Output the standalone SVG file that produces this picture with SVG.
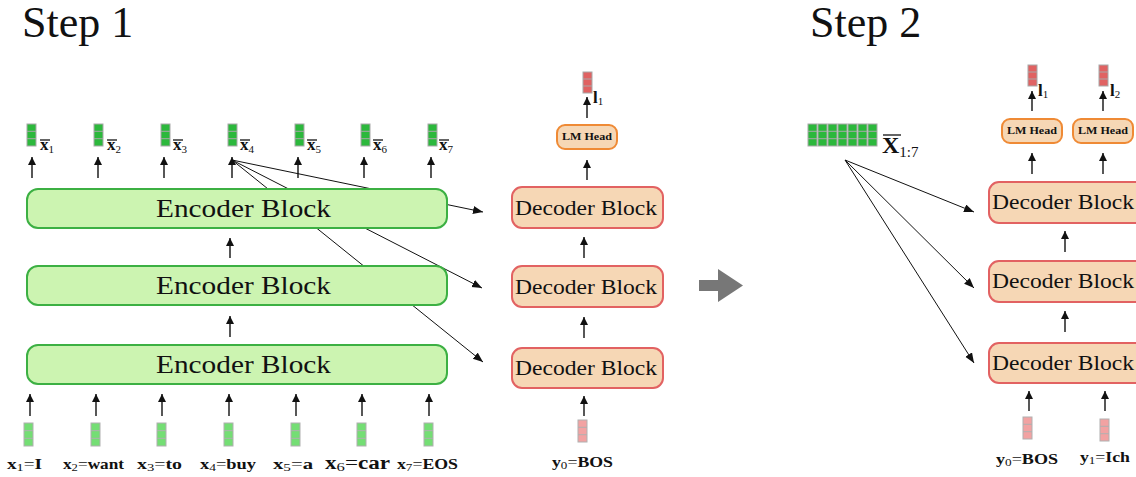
<svg xmlns="http://www.w3.org/2000/svg" width="1136" height="477" viewBox="0 0 1136 477">
<style>
  text { font-family: "Liberation Serif", "Times New Roman", serif; fill: #111; }
  .title { font-size: 44px; }
  .enc { fill: #ccf4b1; stroke: #3cb043; stroke-width: 2; }
  .dec { fill: #f6d7b5; stroke: #e26262; stroke-width: 2; }
  .lm { fill: #f6d7b5; stroke: #ef8a35; stroke-width: 2; }
  .enct { font-size: 25.5px; }
  .dect { font-size: 20.5px; }
  .lmt { font-size: 9.5px; font-weight: bold; }
  .arr { stroke: #111; stroke-width: 1.4; fill: none; marker-end: url(#ah); }
  .xl { stroke: #111; stroke-width: 1; fill: none; marker-end: url(#ah2); }
  .lbl { font-size: 15px; }
  .b { font-weight: bold; }
  .sub { font-size: 11px; }
  .bar { stroke: #111; stroke-width: 1.3; }
</style>
<defs>
  <marker id="ah" markerUnits="userSpaceOnUse" markerWidth="9" markerHeight="9" refX="8" refY="4" orient="auto">
    <path d="M0,0 L8,4 L0,8 z" fill="#111"/>
  </marker>
  <marker id="ah2" markerUnits="userSpaceOnUse" markerWidth="11" markerHeight="9" refX="10" refY="4" orient="auto">
    <path d="M0,0 L10,4 L0,8 z" fill="#111"/>
  </marker>
  <g id="vdg">
    <rect x="0" y="0" width="9" height="22" fill="#2cb83c" stroke="#a8a8a8" stroke-width="1"/>
    <line x1="0" y1="7.3" x2="9" y2="7.3" stroke="#a8a8a8"/>
    <line x1="0" y1="14.7" x2="9" y2="14.7" stroke="#a8a8a8"/>
  </g>
  <g id="vlg">
    <rect x="0" y="0" width="9" height="23" fill="#74de74" stroke="#b0b0b0" stroke-width="1"/>
    <line x1="0" y1="7.7" x2="9" y2="7.7" stroke="#b0b0b0"/>
    <line x1="0" y1="15.3" x2="9" y2="15.3" stroke="#b0b0b0"/>
  </g>
  <g id="vr">
    <rect x="0" y="0" width="9" height="21" fill="#e06262" stroke="#a8a8a8" stroke-width="1"/>
    <line x1="0" y1="7" x2="9" y2="7" stroke="#a8a8a8"/>
    <line x1="0" y1="14" x2="9" y2="14" stroke="#a8a8a8"/>
  </g>
  <g id="vp">
    <rect x="0" y="0" width="9" height="22" fill="#f2a2a2" stroke="#b0b0b0" stroke-width="1"/>
    <line x1="0" y1="7.3" x2="9" y2="7.3" stroke="#b0b0b0"/>
    <line x1="0" y1="14.7" x2="9" y2="14.7" stroke="#b0b0b0"/>
  </g>
</defs>

<text class="title" x="22" y="37">Step 1</text>
<text class="title" x="810" y="37">Step 2</text>

<g id="connectors">
  <line class="xl" x1="232" y1="160" x2="483" y2="212"/>
  <line class="xl" x1="232" y1="160" x2="482" y2="288"/>
  <line class="xl" x1="232" y1="160" x2="483" y2="362"/>
  <line class="arr" x1="32" y1="178" x2="32" y2="157"/>
  <line class="arr" x1="98" y1="178" x2="98" y2="157"/>
  <line class="arr" x1="164" y1="178" x2="164" y2="157"/>
  <line class="arr" x1="232" y1="178" x2="232" y2="157"/>
  <line class="arr" x1="298" y1="178" x2="298" y2="157"/>
  <line class="arr" x1="364" y1="178" x2="364" y2="157"/>
  <line class="arr" x1="431" y1="178" x2="431" y2="157"/>
  <line class="arr" x1="230" y1="258" x2="230" y2="238"/>
  <line class="arr" x1="230" y1="337" x2="230" y2="316"/>
  <line class="arr" x1="30" y1="416" x2="30" y2="394"/>
  <line class="arr" x1="96" y1="416" x2="96" y2="394"/>
  <line class="arr" x1="162" y1="416" x2="162" y2="394"/>
  <line class="arr" x1="229" y1="416" x2="229" y2="394"/>
  <line class="arr" x1="296" y1="416" x2="296" y2="394"/>
  <line class="arr" x1="362" y1="416" x2="362" y2="394"/>
  <line class="arr" x1="429" y1="416" x2="429" y2="394"/>
  <line class="arr" x1="584" y1="416" x2="584" y2="396"/>
  <line class="arr" x1="584" y1="338" x2="584" y2="317"/>
  <line class="arr" x1="584" y1="258" x2="584" y2="237"/>
  <line class="arr" x1="587" y1="180" x2="587" y2="160"/>
  <line class="arr" x1="587" y1="118" x2="587" y2="97"/>
  <line class="xl" x1="845" y1="160" x2="974" y2="212"/>
  <line class="xl" x1="845" y1="160" x2="974" y2="288"/>
  <line class="xl" x1="845" y1="160" x2="974" y2="363"/>
  <line class="arr" x1="1029" y1="411" x2="1029" y2="391"/>
  <line class="arr" x1="1105" y1="411" x2="1105" y2="391"/>
  <line class="arr" x1="1065" y1="332" x2="1065" y2="311"/>
  <line class="arr" x1="1065" y1="252" x2="1065" y2="231"/>
  <line class="arr" x1="1032" y1="174" x2="1032" y2="153"/>
  <line class="arr" x1="1103" y1="174" x2="1103" y2="153"/>
  <line class="arr" x1="1032" y1="111" x2="1032" y2="91"/>
  <line class="arr" x1="1103" y1="111" x2="1103" y2="91"/>
</g>

<g id="encoder1"><rect class="enc" x="27" y="189" width="420" height="39" rx="11"/><text class="enct" x="156" y="217" textLength="175" lengthAdjust="spacingAndGlyphs">Encoder Block</text></g>
<g id="encoder2"><rect class="enc" x="27" y="266" width="420" height="39" rx="11"/><text class="enct" x="156" y="294" textLength="175" lengthAdjust="spacingAndGlyphs">Encoder Block</text></g>
<g id="encoder3"><rect class="enc" x="27" y="345" width="420" height="39" rx="11"/><text class="enct" x="156" y="373" textLength="175" lengthAdjust="spacingAndGlyphs">Encoder Block</text></g>

<g id="decoder1a"><rect class="dec" x="512" y="187" width="151" height="41" rx="10"/><text class="dect" x="515" y="215" textLength="142" lengthAdjust="spacingAndGlyphs">Decoder Block</text></g>
<g id="decoder2a"><rect class="dec" x="512" y="266" width="151" height="41" rx="10"/><text class="dect" x="515" y="294" textLength="142" lengthAdjust="spacingAndGlyphs">Decoder Block</text></g>
<g id="decoder3a"><rect class="dec" x="512" y="348" width="151" height="40" rx="10"/><text class="dect" x="515" y="375" textLength="142" lengthAdjust="spacingAndGlyphs">Decoder Block</text></g>
<g id="lmhead1"><rect class="lm" x="557" y="125" width="60" height="24" rx="8"/><text class="lmt" x="562" y="140" textLength="50" lengthAdjust="spacingAndGlyphs">LM Head</text></g>

<g id="encoder-outputs">
  <use href="#vdg" x="27" y="124"/><use href="#vdg" x="94" y="124"/><use href="#vdg" x="161" y="124"/><use href="#vdg" x="228" y="124"/><use href="#vdg" x="295" y="124"/><use href="#vdg" x="361" y="124"/><use href="#vdg" x="428" y="124"/>
  <line class="bar" x1="40" y1="140" x2="50" y2="140"/><text x="40" y="150"><tspan class="b" font-size="17">x</tspan><tspan class="sub" dy="3">1</tspan></text>
  <line class="bar" x1="107" y1="140" x2="117" y2="140"/><text x="107" y="150"><tspan class="b" font-size="17">x</tspan><tspan class="sub" dy="3">2</tspan></text>
  <line class="bar" x1="173" y1="140" x2="183" y2="140"/><text x="173" y="150"><tspan class="b" font-size="17">x</tspan><tspan class="sub" dy="3">3</tspan></text>
  <line class="bar" x1="240" y1="140" x2="250" y2="140"/><text x="240" y="150"><tspan class="b" font-size="17">x</tspan><tspan class="sub" dy="3">4</tspan></text>
  <line class="bar" x1="307" y1="140" x2="317" y2="140"/><text x="307" y="150"><tspan class="b" font-size="17">x</tspan><tspan class="sub" dy="3">5</tspan></text>
  <line class="bar" x1="373" y1="140" x2="383" y2="140"/><text x="373" y="150"><tspan class="b" font-size="17">x</tspan><tspan class="sub" dy="3">6</tspan></text>
  <line class="bar" x1="439" y1="140" x2="449" y2="140"/><text x="439" y="150"><tspan class="b" font-size="17">x</tspan><tspan class="sub" dy="3">7</tspan></text>
</g>

<g id="encoder-inputs">
  <use href="#vlg" x="24" y="423"/><use href="#vlg" x="91" y="423"/><use href="#vlg" x="157" y="423"/><use href="#vlg" x="224" y="423"/><use href="#vlg" x="291" y="423"/><use href="#vlg" x="357" y="423"/><use href="#vlg" x="424" y="423"/>
  <text class="lbl" x="7" y="469" textLength="35" lengthAdjust="spacingAndGlyphs"><tspan class="b">x</tspan><tspan class="sub" dy="2">1</tspan><tspan dy="-2">=</tspan><tspan class="b">I</tspan></text>
  <text class="lbl" x="63" y="469" textLength="61" lengthAdjust="spacingAndGlyphs"><tspan class="b">x</tspan><tspan class="sub" dy="2">2</tspan><tspan dy="-2">=</tspan><tspan class="b">want</tspan></text>
  <text class="lbl" x="137" y="469" textLength="45" lengthAdjust="spacingAndGlyphs"><tspan class="b">x</tspan><tspan class="sub" dy="2">3</tspan><tspan dy="-2">=</tspan><tspan class="b">to</tspan></text>
  <text class="lbl" x="200" y="469" textLength="56" lengthAdjust="spacingAndGlyphs"><tspan class="b">x</tspan><tspan class="sub" dy="2">4</tspan><tspan dy="-2">=</tspan><tspan class="b">buy</tspan></text>
  <text class="lbl" x="273" y="469" textLength="40" lengthAdjust="spacingAndGlyphs"><tspan class="b">x</tspan><tspan class="sub" dy="2">5</tspan><tspan dy="-2">=</tspan><tspan class="b">a</tspan></text>
  <text x="325" y="469" font-size="18" textLength="65" lengthAdjust="spacingAndGlyphs"><tspan class="b">x</tspan><tspan font-size="13" dy="2">6</tspan><tspan dy="-2">=</tspan><tspan class="b">car</tspan></text>
  <text class="lbl" x="397" y="469" textLength="61" lengthAdjust="spacingAndGlyphs"><tspan class="b">x</tspan><tspan class="sub" dy="2">7</tspan><tspan dy="-2">=</tspan><tspan class="b">EOS</tspan></text>
</g>

<g id="decoder-io-1">
  <use href="#vr" x="583" y="72"/>
  <text x="593" y="103"><tspan class="b" font-size="17">l</tspan><tspan class="sub" dy="2">1</tspan></text>
  <use href="#vp" x="578" y="420"/>
  <text class="lbl" x="552" y="467" textLength="61" lengthAdjust="spacingAndGlyphs"><tspan class="b">y</tspan><tspan class="sub" dy="2">0</tspan><tspan dy="-2">=</tspan><tspan class="b">BOS</tspan></text>
</g>

<g id="step-arrow"><path d="M699,280 L718,280 L718,269 L743,285.5 L718,302 L718,291 L699,291 z" fill="#777"/></g>

<g id="encoder-matrix">
  <use href="#vdg" x="808" y="124"/><use href="#vdg" x="818" y="124"/><use href="#vdg" x="828" y="124"/><use href="#vdg" x="838" y="124"/><use href="#vdg" x="848" y="124"/><use href="#vdg" x="858" y="124"/><use href="#vdg" x="868" y="124"/>
  <line class="bar" x1="883" y1="135" x2="901" y2="135" stroke-width="1.6"/>
  <text x="882" y="153"><tspan class="b" font-size="24">X</tspan><tspan font-size="15" dy="4">1:7</tspan></text>
</g>

<g id="decoder1b"><rect class="dec" x="989" y="182" width="160" height="41" rx="10"/><text class="dect" x="992" y="209" textLength="142" lengthAdjust="spacingAndGlyphs">Decoder Block</text></g>
<g id="decoder2b"><rect class="dec" x="989" y="261" width="160" height="41" rx="10"/><text class="dect" x="992" y="288" textLength="142" lengthAdjust="spacingAndGlyphs">Decoder Block</text></g>
<g id="decoder3b"><rect class="dec" x="989" y="343" width="160" height="40" rx="10"/><text class="dect" x="992" y="370" textLength="142" lengthAdjust="spacingAndGlyphs">Decoder Block</text></g>
<g id="lmhead2a"><rect class="lm" x="1002" y="119" width="60" height="24" rx="8"/><text class="lmt" x="1007" y="134" textLength="50" lengthAdjust="spacingAndGlyphs">LM Head</text></g>
<g id="lmhead2b"><rect class="lm" x="1073" y="119" width="60" height="24" rx="8"/><text class="lmt" x="1078" y="134" textLength="50" lengthAdjust="spacingAndGlyphs">LM Head</text></g>

<g id="decoder-io-2">
  <use href="#vr" x="1028" y="65"/>
  <use href="#vr" x="1099" y="65"/>
  <text x="1038" y="96"><tspan class="b" font-size="17">l</tspan><tspan class="sub" dy="2">1</tspan></text>
  <text x="1110" y="96"><tspan class="b" font-size="17">l</tspan><tspan class="sub" dy="2">2</tspan></text>
  <use href="#vp" x="1023" y="417"/>
  <use href="#vp" x="1100" y="419"/>
  <text class="lbl" x="996" y="464" textLength="62" lengthAdjust="spacingAndGlyphs"><tspan class="b">y</tspan><tspan class="sub" dy="2">0</tspan><tspan dy="-2">=</tspan><tspan class="b">BOS</tspan></text>
  <text class="lbl" x="1080" y="462" textLength="50" lengthAdjust="spacingAndGlyphs"><tspan class="b">y</tspan><tspan class="sub" dy="2">1</tspan><tspan dy="-2">=</tspan><tspan class="b">Ich</tspan></text>
</g>
</svg>
